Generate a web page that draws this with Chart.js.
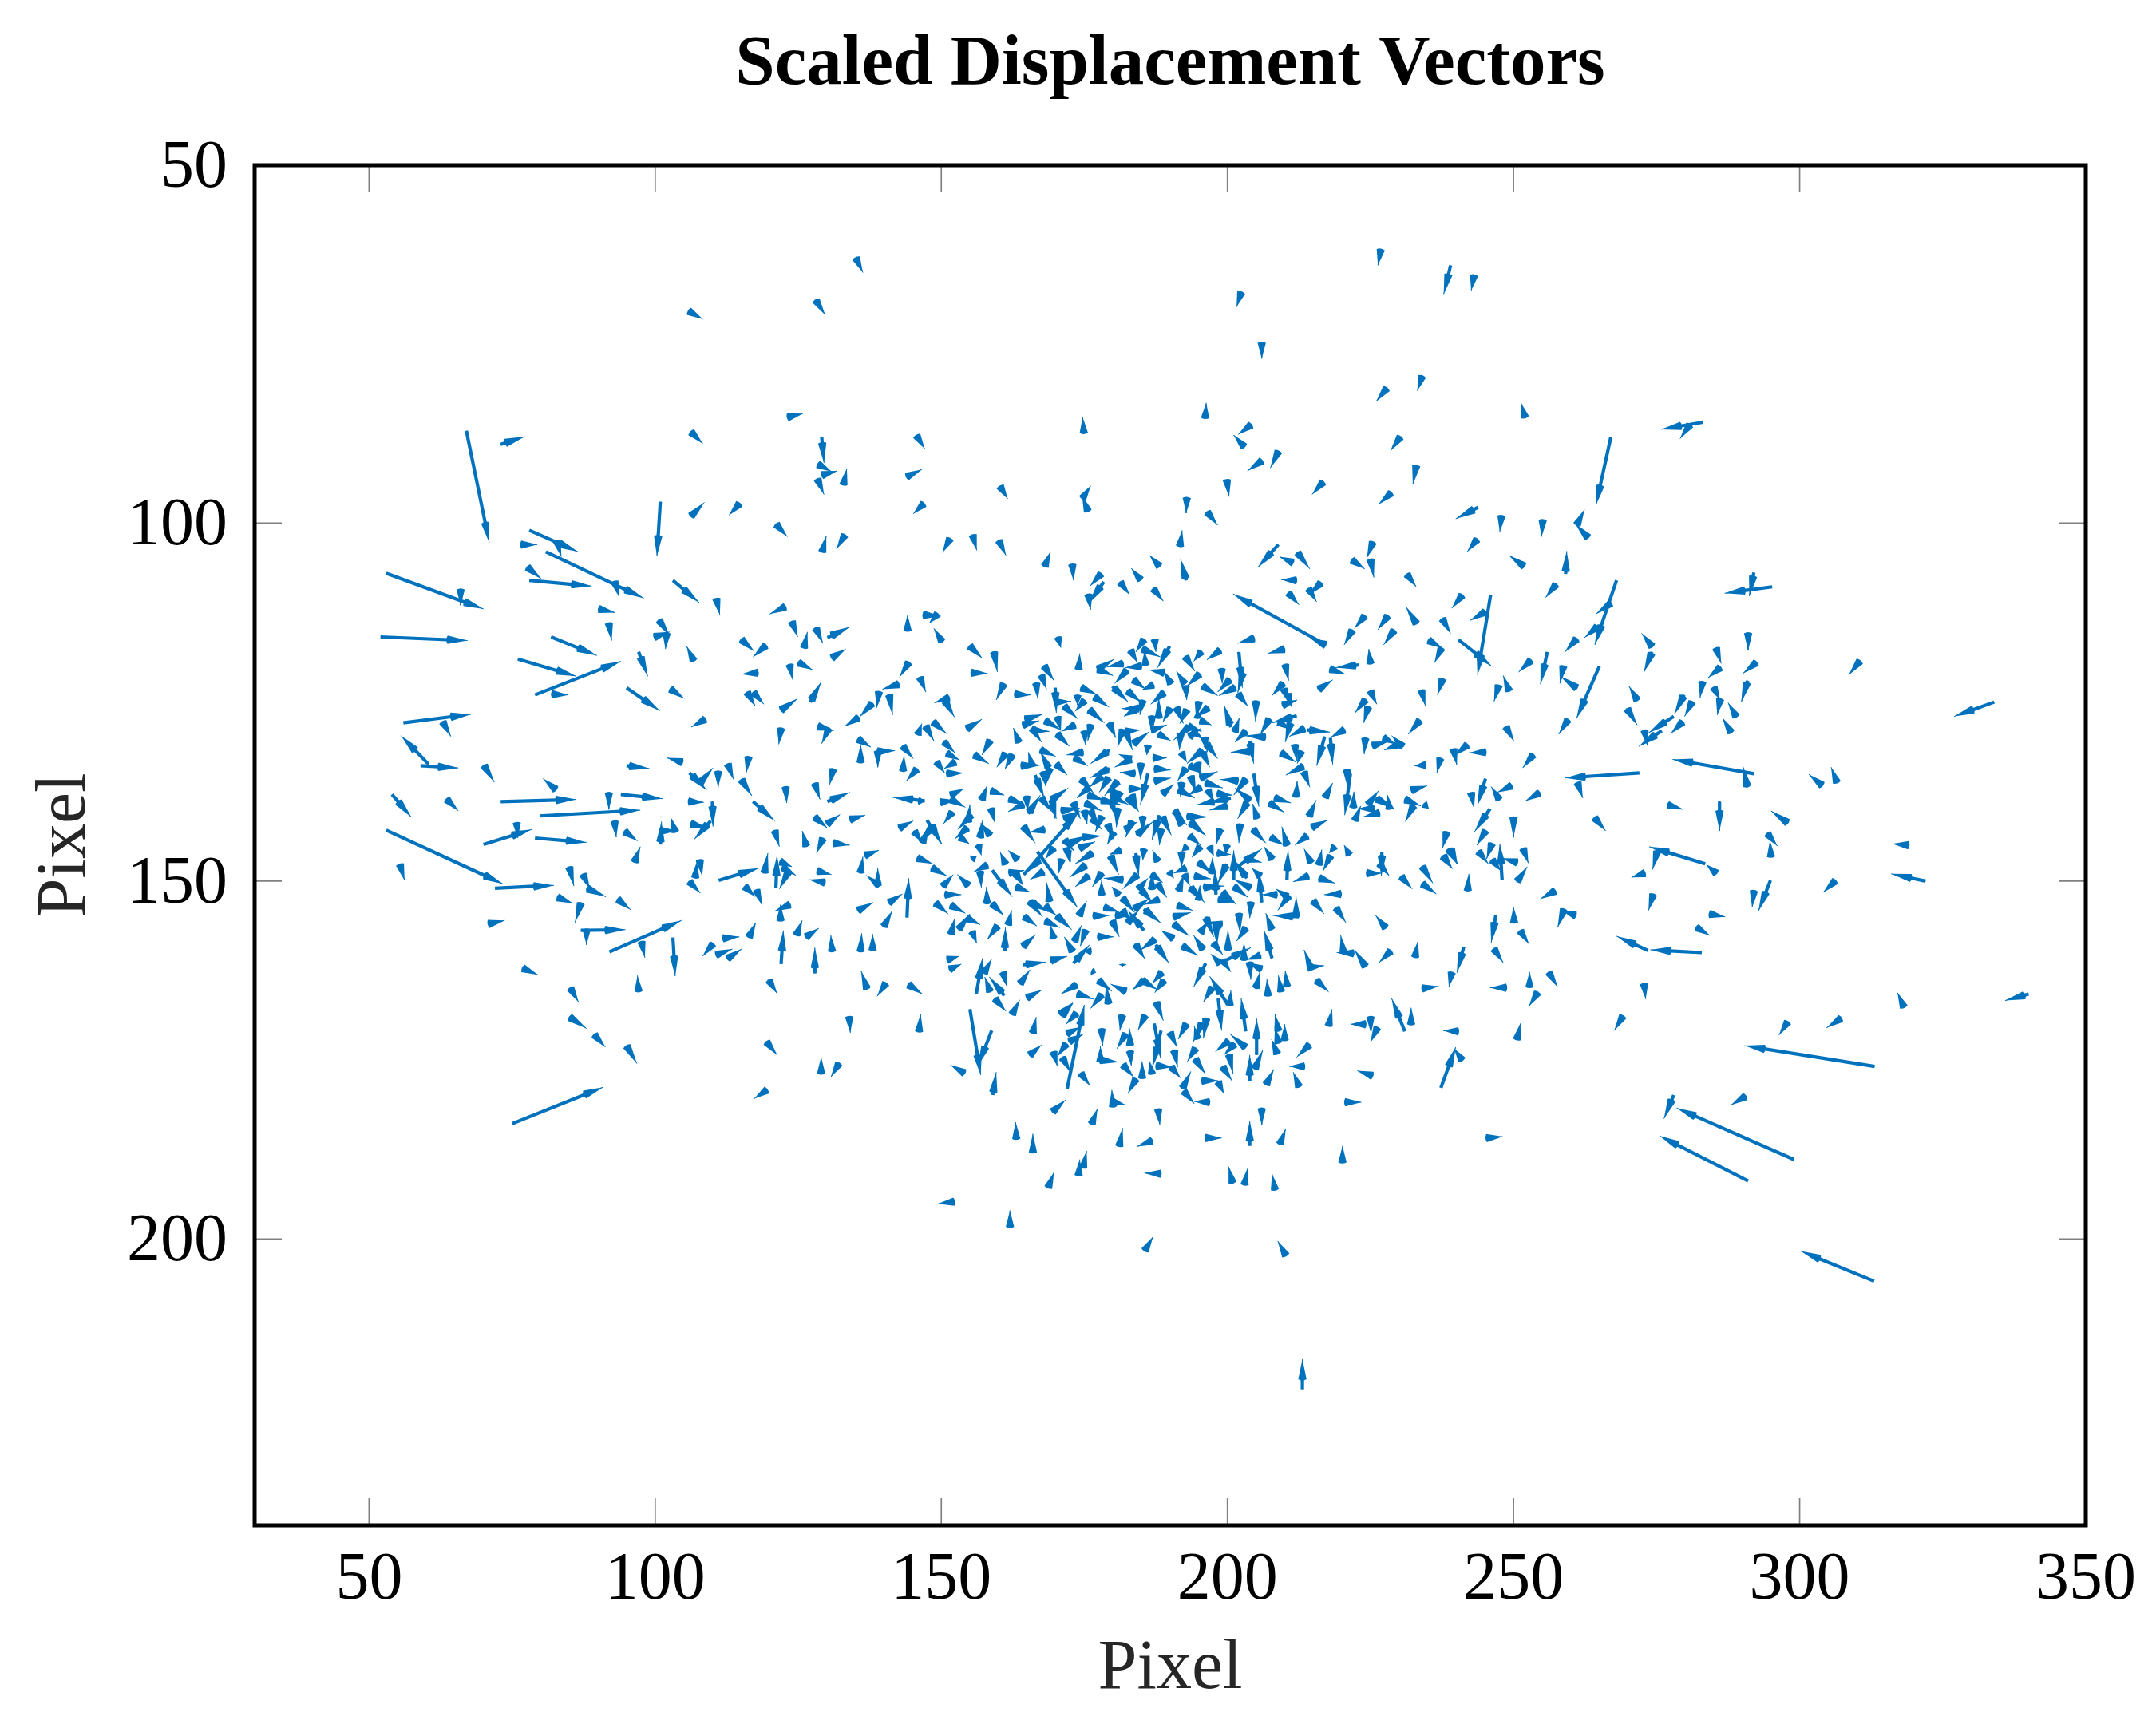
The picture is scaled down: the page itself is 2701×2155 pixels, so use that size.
<!DOCTYPE html>
<html>
<head>
<meta charset="utf-8">
<title>Scaled Displacement Vectors</title>
<script src="https://cdn.jsdelivr.net/npm/chart.js@4/dist/chart.umd.min.js"></script>
<style>
  html, body { margin: 0; padding: 0; background: #fff; }
  canvas { display: block; }
</style>
</head>
<body>
<canvas id="chartQuiver" width="2701" height="2155"></canvas>
<script>
const xTicks = [50, 100, 150, 200, 250, 300, 350];
const yTicks = [50, 100, 150, 200];

// arrow tails
const tailX = [
135.1,128.1,105.9,123.2,106.3,145.7,67,73,129.1,128.5,129.2,132.9,144,128.4,106.3,114.7,146.9,100.9,78,121.2,
129.2,133.1,151.5,76.6,82.8,80.9,77.7,103.1,78,92.9,53,66,110.7,90.2,122.7,123.9,144.1,149.3,146.9,150.1,
52,91.9,100.7,99.9,102,115.1,119.3,128.1,126,130.1,130.9,81.8,97.1,106.7,76,79,117.9,123.5,125.1,144.3,
146.3,142.5,139.1,127.1,116.1,117.2,95,102.7,82,122,137.9,140.9,151.3,150.7,
226.8,239,243.1,202.4,206,234,227.8,196.1,174.9,252,204.1,202.9,267,230.2,208.9,206,233,199.9,216.7,228.6,
160.3,174.7,175.6,192.9,196.5,243.8,247.9,255.1,261.1,263,155.5,160.1,168.1,191.7,172.9,188.1,192.8,208.9,211.4,212.2,
225.4,221.8,225,243.6,251.8,259.1,231.4,257.4,184.8,177.9,178.4,175.7,181.3,187.1,212,216.3,214.2,210.7,217,268,
246,241,267,264.6,245,233,237.6,228,224,221.8,229.1,261,274.2,274.2,235.2,237.4,240.4,253,255.9,265,
258.7,261,237.6,247.4,249.2,233.9,
283.1,280.8,292,295.2,291,285.4,292.4,286.1,310.5,283,271.6,285,286.1,290.9,288.9,288,279.8,281.2,269.9,278,
275.9,279.5,272.9,334,292,290.9,272,261.2,259.5,248.7,241.9,239.5,245.1,253.4,237.2,303.9,306.5,245.1,242.6,249.6,
247.5,254.5,277,286,245.9,250,264.2,298,294.4,295,245.1,238.3,248,246.2,251.7,250.6,239.1,243.9,237.7,246.3,
283.5,285.4,275.1,319,272.9,322,
294.9,292,306.2,257.2,274.4,284.3,258.8,260.8,282,251.2,282.9,273.5,252.8,256.2,272.8,254.2,297.9,307.2,318.2,340,
313.1,290.5,278,299,291,313,
56,62.9,60.4,59,70.1,82.6,108.7,122,128.5,130.3,135.5,135.5,135.9,138.9,138.9,143.3,145.7,143.3,104.7,95,
116.3,112.7,111,106,107.9,131.1,115.1,122.8,127.9,130.1,117.1,54,63.6,73,91.9,94,105.9,79.8,110,127.9,
130.1,134.1,147.1,142.7,106.3,109.7,70,75.8,92.9,94.7,79,100.9,100.9,103.5,96.4,120.9,126.4,129.3,131.2,136.7,
145.3,146.7,148.3,135.9,53,55.4,72,85,87.4,88,83,87,93.5,107.8,107,106,111.1,119.1,121.1,121.9,
122.3,123.2,128.4,129.6,139.1,138.9,145.9,148.4,150.3,144,115.7,117.7,140.9,123.5,121.9,135.5,140,149,150.7,151.7,
92,87,88,70.9,97.6,103.1,110.1,111.9,110.7,112.7,116.4,124.7,126.4,122,127.9,130.9,135.9,138,76.9,97.1,
85.2,119.9,137,140.3,144.3,85,89.4,95,133.9,146.1,119.5,129,132.1,75,119.5,151.1,151.5,
155,158.8,166,165.5,154,159,171.2,173.6,172,172.4,172,171.8,169.6,171.2,174.4,181.6,185.6,178,182.2,183,
177.8,177.8,183,181.8,185.1,184,180,179.6,169.5,176.3,187.9,206,220.6,163.1,166,181.1,186.8,196.2,203.9,209.2,
245.3,220.1,174,174.8,168.7,188.3,200.9,203,208.3,152.2,162,185.6,210.2,213.1,232.1,231,225,224.1,226.2,217.7,
214.3,240.3,250.6,269.1,237.3,241,213.4,225.3,212.5,206.8,208.7,208.9,210,208.9,205.1,204.8,203.9,203.1,203.2,198.4,
196.3,194.8,195.6,192.8,190,188.4,187.2,187.6,190.7,194.4,194.4,200.3,200.2,201.2,199.2,187.6,190.2,192.2,195.6,198.4,
192.4,196.8,186.8,
155,159.2,155.3,160.9,162.9,170.4,174,168,167.5,166.6,169.9,169.9,181.7,177.4,177.4,182.4,183.6,187,179.9,182.6,
185.2,184.5,183.8,189.9,185.2,183.1,185.4,187.3,184.9,185.7,188.9,190.1,188.9,188,174.5,173.8,176.8,175,175.9,171.5,
154.5,148.6,147.3,145.9,164.7,164.3,168.2,170.3,165.9,165.9,163.5,170.3,173.3,175,176.1,179.4,181.7,182.2,182.2,183.6,
186.8,190,188,186.8,186.1,158.5,155.8,150.5,151,161.2,162.4,149.2,152.4,151,164,165.9,167.4,168.7,167.8,170.1,
168.9,173.3,174.7,179.4,183.1,183.1,183.8,179.4,179.2,180.8,184.9,186.1,182.9,187.1,187.3,187.3,188.7,157.1,158.7,158.7,
149.9,151.7,151.7,146.1,151.9,161.9,164.3,164.9,165.2,167.5,166.4,169.4,169.2,171.5,173.1,174.5,175.7,175.2,179.9,178,
182.6,180.8,176.1,155.2,154.7,156.8,158.5,147.5,148.1,154.5,153.3,164.3,168,164.4,166.8,
204.6,217.1,209.9,198.7,195.4,192.7,195.1,192.5,192.7,199,200.4,201.3,195.7,202,201.9,202.7,210.1,216,223,218,
225,209.7,209.9,209.7,210.6,225,224.1,224.6,233.6,200.6,201.3,205,195,196.6,192.9,191.1,212.1,207.3,209,211,
213.4,213.9,220.4,217,218,224.1,225.4,230.6,227.3,229.7,234.6,206.6,203.2,203.9,203.9,204.6,205.2,209.4,212.9,211.8,
213.2,213.4,212,217.1,221.5,220.9,222,214.3,208.3,207.4,224.6,225.9,228.3,225.6,222.3,226.5,232.2,231.1,232.5,234.4,
214.8,203.4,202.2,204.5,210.4,207.6,213.9,198.7,193.4,193.6,193.2,192,195.3,193.4,196.2,201.8,203.2,203.9,198.3,200.6,
199.9,196.6,197.6,191.5,192.7,195.3,193.6,192,194.8,195.7,195.7,192,196.4,191.8,196,195.3,193.4,194.8,193.9,193.4,193.2,
154.7,151.7,153.1,154.5,155.4,155.4,158,156.8,156.5,161.2,163.3,158.9,158,158.9,161.7,164.5,159.8,161.1,164.3,168.2,
169.6,168.2,170.1,174.1,175.2,176.1,173.3,172.9,177.4,185.4,176.6,178.5,179.9,182.6,180.5,181,181.7,181.7,183.8,185.4,
188,184.5,185,186.8,187.8,186.8,187.8,185.4,189.9,184,184.3,179.6,181.3,181.7,178,178,175.7,176.4,175.2,171.9,
171,169.6,167.3,167.8,161.9,163.1,163.1,165.4,165.9,168.9,190.5,184,187.3,187.5,181.7,164.3,169.2,173.1,176.4,177.5,
179.2,182.2,185.4,185.2,188.5,188.9,156.1,157.5,161,158.5,160.8,163.8,165,159.4,162.4,173.6,173.8,178,170.8,
237.8,238.7,242,250.7,250.1,246.9,246.6,241.3,239.2,248.7,234.1,224.4,227,226.6,234.1,230.4,234.1,219.8,216.1,214.1,
214.6,216,218,218.7,221.3,215,219,227.6,232.8,220.3,222,224.1,228.5,214.6,214.1,215.6,207.7,212.5,212,207.8,
202,203.2,204.1,206,205.7,204,201.1,203.4,201.8,203.3,210.4,207.8,208.6,210.4,210.7,201.2,199.2,198.5,192,192.9,
196.9,198.3,199.9,195.2,195,197.3,199.9,194.3,192.7,192.5,191.5,193.4,195,195.7,198,191.3,190.6,190.6,196.2,195.3,
199,198,195.7,200.1,197.6,192.2,198.7,199.2,199.2,202.9,205.7,205.9,203.9,205,207.1,209.4,210.4,196.2,200.1,197.3,200.4,
175,176.4,178,179.1,180.1,182.2,183.3,185.2,184.1,188.1,188.6,188.4,190.8,193,193.5,172.6,174.8,174.2,171.6,172.1,
169.4,171,179.6,183.3,181.2,175.8,178,180.1
];
const tailY = [
63,68.9,70.4,85.2,87.3,87.8,87.1,89,88,91.8,93.3,94.6,93.5,93.9,99,97.3,97.3,97,101,100.2,
104,101.7,102.2,103,102.5,104,106.2,108,108,108.2,107,109.3,110.6,112,111.7,113.8,115,112.7,112.8,116.5,
115.9,114,113.6,115.9,115.4,116.3,117.1,114.7,117.4,116,118.8,115.9,118,119.2,119,124,120.9,119.8,119.5,119.5,
121.6,122.5,123.6,125,123.7,123.7,123,123.2,123.9,126.1,125.2,124,124.4,124.9,
61.8,64,65.4,67.8,74.8,79.5,81.2,85.3,87.4,85.2,86.3,89.3,88,88,90,91.3,92,94,94.3,95.8,
94.9,96.5,98.3,96.5,98.5,97.8,99,99.6,100.2,102,101.7,102.5,106,103.2,105.8,106,108,103,105.5,104.1,
102.7,105.2,105.1,102.3,106,107.1,107.2,108.6,107.9,107.1,108.2,110,108.3,109.2,108,108.4,109.2,109.8,116.9,108,
110,110.1,111.2,114.5,112.4,114,113.4,113,113,115,115,116.2,117.2,118,116.4,117.5,116.3,119.2,118,120,
120,123,121.8,122.7,123.4,123.4,
85.9,86.3,106.9,108.9,115.4,117.5,119.5,120.2,119.3,122.2,124.7,123,124.6,122,127,129.2,124,125,126,127,
129,127.8,129,125,135,136.9,134.9,136.3,127.5,128.5,131,131.6,132,132.4,132.9,136.6,136.2,135.7,137.7,136.7,
138.6,137.7,139.4,138.9,139.9,141,141.2,141.9,143.4,146.6,143,143.2,149.8,144.8,145.5,147.4,145.6,145.9,146.6,147.1,
147.6,148.9,145.9,145,148.9,150,
149.9,151.4,150,151.4,151.9,154.6,154,154.8,156.5,157,160,159.7,164.8,162.8,164.4,165.6,169.7,169.2,167.6,165.8,
175.9,180.1,179.9,188.9,191.9,205.9,
127.9,127.8,133.7,133.9,133.9,137.2,127.4,128.7,128.4,128.7,127.2,130.2,133.4,131.9,131.9,131.2,134.4,134.6,133.4,133.9,
132.7,133.7,134.7,134.9,136.2,134.4,135.9,136.9,136.4,138.9,138.9,137.9,138.6,138.9,137.7,137.9,138.9,140.9,138.9,141.1,
142,141.4,138.8,142.6,142,141.6,144.9,141.9,141.7,143.1,144,144.9,143,143.1,147.3,143,145.1,144.1,144.7,146.4,
143.1,144.6,142.1,148.8,142.9,147.7,151,148.1,149.1,151,152.3,153.1,152.6,147.1,149.5,150.1,149.9,148.8,151,147.3,
148.1,148.8,148.6,150.2,150.6,150.6,146.8,148.2,150.7,155.1,150.8,151.3,153,153.3,155.5,154.1,156.3,153.1,151.9,157.4,
159.9,156.9,156.8,156,158.5,157.9,158.8,158,160.3,160.8,157.8,157.5,157.8,161.6,162.9,159.8,159.8,159.6,162.2,165.4,
165,163.9,165,164.3,164.5,169,171.5,173,169,171,172.5,176.9,175.5,183.9,179.2,161,162.3,
167.9,170.9,171.2,174.3,176.8,179.9,168.8,168.5,171.3,172.4,179,172.8,173.9,174.7,176.9,168.8,168.8,170.7,171.4,172.9,
175.2,175,173.8,175.7,177.5,177.7,181.5,180.7,182.2,183.9,181.9,181.8,180.9,186,187.9,187,186.3,185.9,187,186.7,
185.9,189.3,191.1,190,192.8,190.9,192.1,192.4,193.1,194.8,198.3,201.6,202.3,221,170,171,169,170,170.5,170.2,
172.9,171,172.1,168.9,178.9,175,175.9,177.2,178.7,178.4,174.1,172.6,172.2,170.9,174.3,176.2,178,173.2,171,166.4,
169.2,172,169.8,170,171.2,170.9,169.9,167,173.7,173.4,174.9,174.3,172.4,172.8,176,175.8,176,178.9,177.9,178.1,
179.4,180.9,176.9,
117.2,118,120.9,122.5,123.9,116,120.4,120,121.3,122.4,123,125,119.6,120.4,120.4,120.6,121.9,122.6,122.8,123.5,
124.8,125.9,126.1,117.2,117.6,117.8,116.3,116.3,120,119.8,120.9,122.4,123.7,127.2,123,124.1,124.3,124.8,126.1,125.6,
128.7,127.8,128.4,129.5,127.4,128.2,127.6,127.1,128.9,128.7,130.6,129.5,128.2,129.1,128.2,128,128.9,128.9,129.1,130.8,
127,125.9,129.5,128.9,131.1,130.4,132.4,130.6,132.2,132.2,132.4,133.4,133.4,135,133.9,133.9,131.7,134.1,134.8,133.7,
134.3,132.8,132,131.7,133,133,135,134.3,135.6,136.1,133.6,135,137.1,132.8,134.3,136,137.8,138.6,137.4,139.9,
139,138.6,138,138.8,140.4,138.5,139.3,138.2,140.6,138.4,135.2,139.3,138.7,141.3,139.1,135.8,138,139.1,138.2,138.7,
138.4,139.9,140.2,140.8,141.7,143.9,143.6,141.5,142.8,142.6,143.9,142.3,142.8,149.1,145.9,
116.1,117,117.6,117.8,118,118.7,121.1,122.4,122.8,120.4,121.9,123,122.8,118,123.9,120.9,119.8,123.2,119.8,120.4,
119.6,122.4,123.2,125.4,123.9,123.5,124.7,125.7,127.6,128.5,129.1,124.9,125,125.8,126.1,125.8,126.9,127.4,127.8,128,
128.7,128.9,128.9,129.8,130,130.1,131.1,131.2,130,131,133.8,129.9,129.1,131.9,130.4,135,141.2,132.1,131.9,131,
134,134.8,138.2,138.3,135,134.5,139.7,140.9,138.4,139.1,139.3,138.4,139.9,139.9,141.5,140.5,137.3,138.6,139.5,139.3,
142.5,139.1,142.1,142.8,145,143.9,143.7,142.8,143.7,141.9,141,142.1,135.6,133.9,136.3,136,135.8,138.7,137.8,138.4,
139.5,137.3,138.9,137.3,134.3,136.9,135.4,136.3,133.5,132.1,131.7,132.1,130.9,129.5,130,127.6,128.4,127.2,129.1,129.8,128.4,
150.6,153.4,156.7,155.2,157.1,146.9,147.8,148.7,145,147.6,147,148.5,153.1,153.2,156.1,155,156.3,159.8,159.1,155.6,
158,153.5,154.8,154.8,156.9,159.8,158.4,159.8,157.8,156.9,154.9,153.7,155.6,155.8,154.8,151.9,152.4,154.1,153.9,153.9,
152.6,151.1,151.3,151.1,150.4,149.1,147.2,145.6,148.7,146.1,149.1,146.5,145.7,149.8,151.9,148.9,149.3,146.1,147.8,145.4,
147,145.4,147,148.7,148.9,149.1,150.8,152.8,153,152.8,158,158.9,158.2,158.9,161.7,161.7,161.1,161.5,162.6,163.9,
167.1,165.4,163.9,163.9,162.8,163.9,165.8,162.8,166,165.4,162.8,164.3,166.3,166.5,168.6,164.5,165.8,165.9,168.6,
146.5,145.6,151.3,150,155.8,154.8,159.5,159.2,162.8,164.9,165,148.9,145.9,147.6,148,149.4,150.4,151.8,149.6,149.3,
147.4,147.7,146.5,145.2,146.3,152.8,153.8,156.5,160.6,160,160.1,161.9,159.8,162.2,162.1,163.9,156.7,155,155,160.8,
154.6,156.6,153,153,149.3,150.9,149.8,149.6,148,146.9,149.8,146.9,151.9,152.2,152.1,150.8,151.6,152.5,146,145.2,
145.2,146.1,145,145.2,147.4,148.9,147.6,149.3,148.2,149.1,151.3,150.8,152.6,150.9,151.9,153.4,155,156,155,157.2,
156.1,155.8,159.5,159.8,158.7,159.1,161.5,161.1,161.3,161,160.4,162.3,161.4,164.9,166,165.4,164.7,161.5,167.3,164.9,167.3,
140.2,141.3,141,142.1,143.2,142.8,141.7,141,143.6,140.8,141,142.8,140.2,141,141.7,144.7,143.9,145.4,144.3,145.8,
138.7,140.2,138.7,138,137.6,136.9,135.4,137.3
];
const dX = [
1.2,1.6,2.4,2.6,2,1.4,4,4.2,.4,2.3,2.6,.6,2.6,1.1,2.3,-1.8,-1.8,-.6,8.5,1.9,
.7,-1.4,-1.3,2.8,.8,17.1,2.4,4.6,10.9,.8,17,0,.6,2.8,-2.7,1,0,-1.4,3,-1.4,
15.2,.5,1.8,2.6,-.2,2.2,-2.2,1.2,.6,3.9,2.4,8,1.6,-1.2,10.2,15,-2.8,.6,2.4,-1.6,
1,-2.8,-.4,1.9,1.4,1.8,5.8,2.4,2.8,2.9,-2.2,.6,-2.5,1.6,
-.5,-1.2,-.5,-.8,0,-.8,-1.8,.2,-.2,-.7,-2.2,-1.8,-2.6,-1.7,-1.4,-2.5,-.6,.4,-1.9,-2.2,
1.3,1.4,-1,-.1,1.8,-3.9,-.3,-.2,1.3,-2.2,.7,1.2,1,.4,.2,-1.7,-1,-3.6,-2.3,2.2,
-1,2.2,.6,-1.7,-2.6,.2,1.6,-1.8,-1.6,-1.9,-2.6,.4,1.6,1.7,-2.6,-2,1.4,1.8,-16,-3.8,
-2.3,-1.8,-2.6,-2.2,-2.6,-1.8,1.4,-1.7,-1.8,-1.4,-1.8,-2,-1.8,-1.4,2.4,-1.2,5.8,-2.1,-1.2,-4,
-.6,-2.8,-.9,-.8,-1,.7,
-7.3,-1.7,-.8,-8.3,0,.9,-2.3,-2.1,-1.9,-.4,-1.4,1.1,-.5,-1.1,-1.4,-1.5,-1.7,-1.3,1.7,-4.4,
-4,-2,.5,-7,-14.2,-.8,-13,.9,-1.6,1.4,-2.3,.6,-2.9,-1.8,-.6,-2.3,-1,-1.4,.5,-2.4,
-1.4,-2.4,2.7,0,-2.7,0,1.9,-3,1.7,-.2,-1.5,-.7,-.4,-.9,.9,-2.6,1.1,1.7,1.5,1.5,
-9.8,-1.7,-.8,-2.8,-2.3,-6,
-2.1,-.3,-2.1,-2.5,-.8,2.7,-1.1,-2.2,2.3,1.5,-9,-5.5,0,1.5,.3,-1.5,-1.5,-2.5,-1.1,-4.1,
-22.7,-2.5,-1.7,-20.5,-15.5,-12.8,
11.8,1.4,-4.8,6.6,1.8,-2.2,-2.4,-.4,2.7,-1.2,-2.4,2.2,0,3,0,1.8,-1.8,.2,-2.6,4,
-.4,1,0,3,2.2,-.6,1.8,.2,.9,3.9,3.8,3.4,2,13.2,0,7.3,2.6,17.6,.1,2.2,
2.2,2.6,-5.6,2.4,2.8,-2.9,8.4,.2,.3,2.2,9,.2,2.9,-.8,1,.8,-.7,-1.1,2.8,2.4,
1.4,1.2,1.6,.4,20.4,.8,10.3,.8,1.2,3.4,2.6,-1,2.2,.4,.3,1.9,7,.6,.2,2,
2.3,-1.5,2.4,-2.7,-2.2,0,2.6,2.6,1.8,.3,1.8,1,2.3,-2.6,0,2.6,1.4,2.2,2.8,.6,
12.6,7.8,0,2.8,.6,.4,-1.8,2.8,2.8,2.4,1.2,1,2.2,.4,0,-.2,.2,0,2.6,-.2,
1.4,1.4,-1,-1.5,2.4,3,1.9,1.8,.2,.3,1.8,0,-1.4,15.9,-2.2,2,2,
1.9,-2.4,.6,2,-2.4,.6,1.8,-1.8,2.4,2.4,3,-1.5,.7,1.4,1.6,-.4,-1.2,.2,-1.5,-.1,
0,3.2,.2,1.8,0,-1.4,-.2,2.6,2.2,1,.3,0,2.8,-.1,0,.6,-2.6,2.8,0,1,
2.8,0,.2,.6,1,-2.8,-.7,.5,-.5,-2.8,0,1.4,-1.4,0,0,-2.3,.1,-2.6,-1.2,.6,
-2.2,-2.6,.6,-1.5,2.6,-1.4,-2.6,-2.6,-1,1.3,-1,-.6,0,-.6,0,1.4,0,-2.6,-.8,.6,
-.5,-.6,-1.6,-1.4,1.2,-1.5,1.2,1.2,.6,-1.4,1.8,.7,-2.3,-1.8,1.6,2.8,1.6,1.4,2.8,1,
1.8,-2.6,-.4,
2.2,.6,2.8,-1.3,2.8,.5,.2,1.7,.9,.3,.2,2.8,-2.8,2.8,2.6,-2.1,2.1,-1.9,2.8,2.3,
-.5,-3,-1.9,-2.1,3.1,1.2,-1.4,.2,-2.8,-.2,-2.6,-1.2,-2.3,0,2.6,0,2.5,-1.6,2.6,2.3,
2.6,2.3,1.4,.7,3,2.8,2.7,.6,3,1.6,-.9,2.1,-2.3,.2,-.5,1.1,-.9,1.2,2.6,2.8,
0,-1.3,2.1,2.6,-.2,-1.4,2.5,1.9,2.2,-1.5,-1.3,1.4,-1.9,2.9,3.5,-.7,2.6,-1.4,.5,1.9,
-.7,2.3,-2.8,-3.3,-2.1,-2.8,-2.6,-3.5,-1.6,-2.3,-.1,-1.3,2.6,2.3,2.8,2.8,1.9,.9,2.3,.7,
2.6,2.5,2.2,1,-1.5,2.8,-2.6,.2,2.1,1.8,1.6,.7,3,2.8,1.2,2.1,2.8,2.8,2.8,3.3,
1.9,-.2,1.4,-2.3,.3,.5,-1.6,2.6,-1.5,-2.1,1.6,2.1,-2.6,9.6,7,
-2.8,-2.6,-2.8,-2.3,-1.3,1.6,-2.2,-1.4,.2,.1,-2.1,-2.8,2.6,.6,1.7,-.9,.6,2.4,-4.1,2.6,
-.3,-1.9,.8,2.5,.7,1.1,-1.8,-.8,-2,-1.2,.8,-.1,-.5,-2.2,-1.2,1.2,-4.3,-1.6,2.1,-.9,
-2.6,4,-2.3,-1.4,.4,-.2,2.7,-1.9,2.1,-2.3,-1.9,-3.5,-1.9,-3.3,.7,.9,-.8,2.6,-.7,.3,
-3,1,.2,1.3,-1,.1,.1,1.2,2.8,2.5,1.8,3.3,-.3,-2.9,1,-2.7,2.7,2.7,-1.4,.8,
2.7,-1.6,-.2,2.2,-.9,2.3,-2.1,-.7,1.9,2.5,3,-1.4,3,2.3,3,-3,-2.1,-2.6,2.6,-4,
-3,.9,-2.8,2.8,-1.4,-2.1,.9,-.2,.5,1.2,-2.8,.9,1.9,-.2,.5,1.9,-2.8,0,1.9,1.9,2.3,
-1.9,2.5,1.9,2.3,.8,.8,-2.3,.2,.5,-.9,-1.6,3.5,-.1,2,.6,2.2,-1.8,.1,2.2,2.5,
-.6,1.9,2.7,1.3,-.9,-1.2,1.2,-1.4,2.7,-2.8,2.8,2.6,1.2,1.9,2.6,-1.2,2.1,1.4,2.6,3,
-2.6,1.6,1.9,0,1.6,1.9,-.9,-.2,.7,.5,-2.6,1.4,-1.9,-3.3,0,-1.6,-2.3,-3,-2.8,.5,
-.5,-1.4,-2.8,-2.3,2.6,1.2,2.3,2.3,2.8,-.5,-2.1,1.6,-2.6,2.3,0,4,2.8,2.8,.6,2.3,
-.4,-2.6,-2,2.6,-1.6,-1.6,1.1,1.3,-2.6,-.9,.7,1.7,2.6,1.9,1.3,-2.7,2.8,-1.9,2.2,
1.5,1.4,.2,1.7,-.1,-.8,1.6,-1.2,-.5,-2.8,2.8,2.6,-.1,1.7,1.8,1.9,2.4,-2.9,2.7,-2.6,
-1.2,.5,-1.3,-.9,-.9,1.9,1.7,-1.7,.5,-.5,-2.9,-1.9,-2,-1.2,2.8,2.1,-1,-4.6,0,-1.4,
.2,-1.6,-.2,-.5,-1.4,-2.8,0,-2.3,4.2,2.7,.2,-1.4,-2.5,-1.9,-1.9,2.4,2.4,2.7,0,-.9,
.7,2.3,-.2,-1.4,2.3,.1,-1.6,2.8,-2.1,.9,.9,2.6,.2,3.7,-.2,2.6,3,2.8,1.4,1.2,
-2.6,.2,-1.6,0,1.6,2.6,-1.6,1.4,4.9,0,-2.3,-2.3,.2,.7,-.2,-.5,-.3,-2.1,-3.2,-1.5,.2,
.5,1.6,-1.1,1.1,-1.1,2.1,-1.1,0,2.9,-1.3,1.6,-.3,2.1,3.2,2.7,3.2,3.2,2.7,1.6,.5,
.5,3.2,1.1,1.1,-1.1,-2.1,-2.1,-.5
];
const dY = [
2,2,1.1,-.5,1.6,1.8,15.6,-1.1,3.6,1,-.6,-2.2,-1,2.1,-1.9,1.6,1.4,7.6,3,1.7,
-2.2,1.9,1.9,0,2.2,6.5,1.6,3.1,.8,2.1,5,2.2,2.2,.5,1,2.1,-2.2,1.3,.2,-1.8,
.5,2.4,2.1,-.7,2.2,1.6,1.6,2.1,-2.2,-1.5,-1.2,2.6,3.4,-2,2.4,-4.7,.2,2.2,1,2,
2,.7,2.2,-2.8,1.9,1.6,3.2,1.3,.1,-1.6,1.9,2.8,.7,2.2,
2.2,4,2.1,2,2.2,2,1.8,-2.1,-2.2,-2,1.3,-1.6,9.5,1.9,2.3,1.4,2.6,2.3,1.7,1.6,
1.7,-1.7,-2.1,2.1,1.8,1.6,2.2,2.3,-2.1,-1.9,2.1,2,-2,-2.2,2.2,-1.5,-3,3.2,-.8,2.3,
2.1,1.2,2.5,1.7,-1.5,-3.2,1.7,1.8,-1.6,1.7,3,2.1,1.7,1.7,-.1,1.6,1.8,1.6,-7,9,
11.2,1.8,1.5,1.5,1.2,-2.3,2,1.9,1.7,2,2,1.8,-1.8,2.8,1.1,2,3.7,1.6,4.5,7.3,
2.4,-1.6,2.2,2.2,-2.1,2.1,
1,1.9,3.3,.9,2.4,2.1,1.5,1.4,1.9,2.2,-1.9,1.7,2.2,3,-1.9,-2,2.7,2,2.2,2.3,
2.2,1.6,2.1,2,-2,-2.9,.7,2.1,2,2,1.5,2.2,.1,1.8,2,-1.5,-2.1,3.7,2.1,.9,
-1.8,1.1,.6,4.1,3.2,2.9,1.8,-1.7,1.7,-2.2,2,2.2,-5,2.1,2,-.6,2,1.7,1.6,1.5,
-2.4,-1.2,2.5,-.2,.6,-1,
4.3,2.3,1.6,1.1,2.2,.4,2.5,-.6,1.1,1.8,-.4,-2,-2.1,2,2.1,1.9,1.8,1.3,-2,.9,
-2.9,1.2,3.3,-7.2,-6.3,-4.2,
-1.2,2,-4,.3,2.3,-1.5,1.1,2.2,.6,2.1,1.2,1.1,-2.5,-.1,2.2,1.7,1.6,-2.1,-.6,.4,
2.2,2.1,2.2,2.4,-2,2.1,2.2,2.2,2.2,-1.3,2.7,3.2,1.6,-.3,2.3,.6,.1,-.8,3.5,1.5,
-1.3,-.6,-.5,-1,.6,2.6,-2.1,2.1,2.2,1.3,.6,-3.2,0,-2,-2.1,2.2,-2.1,2,.3,-.7,
1.5,-2.4,2.7,-2.2,7.5,2.2,-.4,2.6,2,1.2,.8,2.7,1.4,2.2,-2.2,1.6,-1.7,-2.7,-4.6,.7,
1.1,2.3,.5,-.4,-1.4,-2.4,.8,1.1,-1.6,-5.5,1.4,2.1,-1.2,.9,-2.2,-1.1,-2.1,1.5,0,-2.1,
-4.4,-.1,2.1,-.5,2.2,5.4,1.7,-.2,-.8,-1.3,-2,-2,-1.2,-4.7,-3.6,-2.2,-2.5,-2.2,.9,-2.2,
1.9,1.8,-2.4,1.8,1.3,1.6,1.7,2.5,2.2,-2.4,1.8,-2.3,1.9,-5.1,1.2,-.5,-.7,
9.2,4.9,-2.2,-1.4,-1.1,-3.2,-1.7,1.5,-.9,-1,-11.7,1.7,2,2,1.7,2.1,2,2.3,2,-2.3,
-2.1,.3,2,1.7,-2.3,2,-2.3,.6,-1.6,-2.1,2.2,2.3,0,-2.3,-2.6,-2.5,.8,0,-3.5,-2.1,
-.2,-2.3,-2.2,-2.3,-2.1,-.1,-2.2,-2.2,-2.2,.3,-2.3,-1.9,-2,-4.2,-2.3,-4.6,2.3,0,2,-2.3,
1.7,-.1,-2.2,2,-5.7,-1.6,0,-.7,-2,-2.1,-2,-2.1,-2.2,-2.3,-5.1,-2.6,-3.7,-1.8,-4.6,4.5,
2.8,-1.7,2.7,2.1,2,5.1,5,2.5,2.3,1.8,2.1,2.6,1.4,1.5,1.9,.2,1.5,-2.3,0,1.6,
1.7,-.1,-1.7,
1.7,2.8,.1,2.2,.1,1.4,-2.2,2,1.9,2.2,3.5,-.1,.5,-1.4,.9,1.8,1.3,.7,2.2,1.5,
2,0,.9,3,1.1,1.7,1.7,1.7,.2,-1.9,-.4,-1.7,1.6,-2.8,.9,1.3,1.4,1.5,1.8,1.7,
-1.3,1.6,2,-1.5,-.7,-.6,1.3,1.9,.2,1.9,-2,1.7,.9,1.9,2.2,2,2.4,2.8,-.2,-1.7,
2.4,1.9,.9,-.7,1.3,2,1.2,1.5,.9,1.9,2,1.5,.9,-.1,-.1,-1.9,.9,-2.2,2,1.5,
2.4,1.1,.4,1.9,-.7,1.1,-.2,1.3,2,2,2.2,4.3,0,0,.2,-.4,-1.3,-1.9,.6,2,
-.3,1.1,-.9,.1,1.6,.9,1,2,-2.6,1.9,3.2,2,-1.7,-1.1,2.2,1.9,.7,1.1,1.1,.6,
1.9,2.6,2.2,2,-2.4,-2.6,-1.7,3.3,1.5,1.5,.9,2.4,.4,-8.7,7.8,
.7,-.9,.6,1.3,1.3,2,1.7,-1.7,1.9,2,1.7,1.1,1.3,5,1.7,2.8,2.2,-1.3,.4,.7,
-2,1.7,1.9,-.7,1.9,1.8,1.8,2.2,1.9,-3.1,-1.9,2.8,2.2,1.4,1.9,2.2,1,2.2,1.1,2.6,
1.1,.3,1,4.1,3.7,2.2,-.6,-1.5,.9,.7,.1,-.2,1.5,.1,3.2,4.6,-2,1.3,1.7,2.2,
1.2,2.1,-2.2,-2,5.8,2.4,-2.2,-2.2,.7,1.3,-1.9,1.5,-1.9,0,-2,.5,-.6,.9,2.2,.6,
-1,2.2,2.6,1.9,-2.6,1.1,1.3,2.2,1.3,1.7,0,-1.5,-.9,1.1,.7,-.2,2.2,-1.7,.2,.7,
.6,1.5,.4,1.1,1.7,1.1,2.2,2,1.9,2,1.9,1.3,2,2.2,2,.6,1.9,-1.1,1.1,-1.1,.7,
-1.5,1.1,-2.1,.9,1.6,-.4,.9,2.2,1.4,-1.6,-1.3,3.7,-2.3,1.6,-2,1.3,1.9,-3.3,-1.6,.9,
-1.9,1.3,2,-2,2.2,0,-2.2,-2,0,-2.8,-.1,.6,2.2,-1.7,0,-1.1,2,1.5,-1.5,2,
.7,-1.5,1.7,-2.2,1.9,1.1,-1.5,1.5,.9,3.2,2,2.6,.6,-.2,-2,1.9,1.5,1.5,1.7,1.9,
1.9,1.5,2,1.1,-.4,1.5,.7,2.2,1.3,-2.6,-1.1,2,1.5,2.6,.2,-.4,-.6,-2.6,.2,1.5,
-2.6,-1,1.3,1.3,1.5,1.7,-5,-1.9,-2.6,-2,2,-1.9,-1.1,1.7,-2,1.3,.7,1.9,-1.6,
1.8,2,-2.3,-2,-2.2,3.8,1.9,3.6,2,0,-.3,0,3.4,1.7,2.3,1.7,1.4,.1,.7,.8,
-1.9,-2.1,2.1,.9,-1.3,1.8,2,-1.7,-2.2,-2.4,-.1,-2.3,1.6,-2.6,-.3,1.6,-2.2,-.2,-2.8,-3.9,
2.6,1.8,2.2,-4.3,-1.1,-1.1,-4.1,-2.6,-2.5,.5,-4.1,-1.7,0,-1.1,2,1.5,1.7,.5,2.1,.7,
1.3,.2,1.3,1.5,1.5,-2.2,2.8,.4,.7,1.5,-2.2,2.2,-2,-.2,-3.5,.7,-.6,1.7,2.8,-1.5,
-.4,3.2,-1.9,-3,1.6,1.3,-1.3,1.6,-2,-2.4,.6,-.9,2.4,-2.2,-2.3,-2.2,-2.2,3.3,-4,2,-2,
1.9,1.5,2.2,2.2,1.7,-1.1,2.2,2.2,-1.9,3.5,2.6,2.2,2,.1,1.9,-1.1,-.2,-.9,1.5,1.5,
2.6,-.4,2.6,2.2,2.2,1.5,1.5,1.9
];

if (new Set([tailX.length, tailY.length, dX.length, dY.length]).size !== 1) {
    throw new Error("length mismatch " + [tailX.length, tailY.length, dX.length, dY.length].join(","));
}

const arrowColor = "#0072BD";

// thin needle from tail to tip, the wedge goes on top in the plugin
const segments = [];
tailX.forEach((x, i) => {
    segments.push({ x: x, y: tailY[i] });
    segments.push({ x: x + dX[i], y: tailY[i] + dY[i] });
    segments.push({ x: x, y: null });
});

const quiverPlugin = {
    id: "quiver",
    afterDatasetsDraw(chart) {
        const { ctx, scales } = chart;
        const headLength = 25;
        const halfWidth = 5.2;
        ctx.save();
        ctx.fillStyle = arrowColor;
        ctx.strokeStyle = arrowColor;
        tailX.forEach((x, i) => {
            const x0 = scales.x.getPixelForValue(x);
            const y0 = scales.y.getPixelForValue(tailY[i]);
            const x1 = scales.x.getPixelForValue(x + dX[i]);
            const y1 = scales.y.getPixelForValue(tailY[i] + dY[i]);
            const len = Math.hypot(x1 - x0, y1 - y0);
            const ux = (x1 - x0) / len;
            const uy = (y1 - y0) / len;
            const head = Math.min(len, headLength);
            const bx = x1 - ux * head;
            const by = y1 - uy * head;
            if (len > head) {
                ctx.lineWidth = 4.2;
                ctx.beginPath();
                ctx.moveTo(x0, y0);
                ctx.lineTo(bx, by);
                ctx.stroke();
            }
            ctx.beginPath();
            ctx.moveTo(x1, y1);
            ctx.lineTo(bx - uy * halfWidth, by + ux * halfWidth);
            ctx.quadraticCurveTo(bx - ux * 3, by - uy * 3, bx + uy * halfWidth, by - ux * halfWidth);
            ctx.closePath();
            ctx.fill();
        });
        ctx.restore();
    }
};

// frame and inward ticks on all four sides
const framePlugin = {
    id: "frame",
    afterDraw(chart) {
        const { ctx, chartArea: a, scales } = chart;
        ctx.save();
        ctx.strokeStyle = "#808080";
        ctx.lineWidth = 1.7;
        ctx.beginPath();
        xTicks.forEach((v) => {
            const p = scales.x.getPixelForValue(v);
            ctx.moveTo(p, a.top); ctx.lineTo(p, a.top + 34);
            ctx.moveTo(p, a.bottom); ctx.lineTo(p, a.bottom - 34);
        });
        yTicks.forEach((v) => {
            const p = scales.y.getPixelForValue(v);
            ctx.moveTo(a.left, p); ctx.lineTo(a.left + 34, p);
            ctx.moveTo(a.right, p); ctx.lineTo(a.right - 34, p);
        });
        ctx.stroke();
        ctx.strokeStyle = "#000";
        ctx.lineWidth = 5;
        ctx.strokeRect(a.left, a.top, a.right - a.left, a.bottom - a.top);
        ctx.restore();
    }
};

new Chart(document.getElementById("chartQuiver"), {
    type: "scatter",
    data: {
        datasets: [{
            label: "Displacement",
            data: segments,
            showLine: true,
            spanGaps: false,
            borderColor: arrowColor,
            backgroundColor: arrowColor,
            borderWidth: 1,
            pointRadius: 0,
        }],
    },
    options: {
        responsive: false,
        animation: false,
        layout: { padding: { right: 88 } },
        plugins: {
            legend: { display: false },
            tooltip: { enabled: false },
            title: {
                display: true,
                text: "Scaled Displacement Vectors",
                fullSize: false,
                color: "#000",
                font: { family: "'Liberation Serif', serif", size: 89, weight: "bold", lineHeight: 1 },
                padding: { top: 38, bottom: 80 },
            },
        },
        scales: {
            x: {
                type: "linear",
                min: 30,
                max: 350,
                afterBuildTicks: (scale) => { scale.ticks = xTicks.map((v) => ({ value: v })); },
                afterFit: (scale) => { scale.height = 244; },
                grid: { display: false, drawTicks: false },
                border: { display: false },
                ticks: {
                    color: "#000",
                    padding: 20,
                    maxRotation: 0,
                    font: { family: "'Liberation Serif', serif", size: 84 },
                },
                title: {
                    display: true,
                    text: "Pixel",
                    color: "#262626",
                    padding: { top: 0, bottom: 19 },
                    font: { family: "'Liberation Serif', serif", size: 88, lineHeight: 1 },
                },
            },
            y: {
                type: "linear",
                reverse: true,
                min: 50,
                max: 240,
                afterBuildTicks: (scale) => { scale.ticks = yTicks.map((v) => ({ value: v })); },
                afterFit: (scale) => { scale.width = 319; },
                grid: { display: false, drawTicks: false },
                border: { display: false },
                ticks: {
                    color: "#000",
                    padding: 34,
                    labelOffset: 5,
                    font: { family: "'Liberation Serif', serif", size: 84 },
                },
                title: {
                    display: true,
                    text: "Pixel",
                    color: "#262626",
                    padding: { top: 39, bottom: 0 },
                    font: { family: "'Liberation Serif', serif", size: 88, lineHeight: 1 },
                },
            },
        },
    },
    plugins: [quiverPlugin, framePlugin],
});
</script>
</body>
</html>
